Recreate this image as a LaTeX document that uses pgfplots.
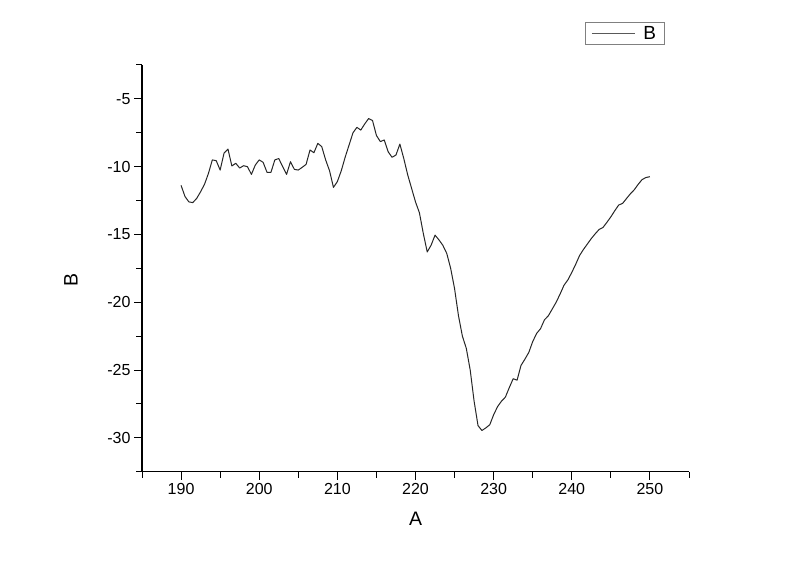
\documentclass[border=0pt]{standalone}
\usepackage{fontspec}
\setmainfont{Liberation Sans}
\usepackage{pgfplots}
\pgfplotsset{compat=1.18}

\pgfplotstableread{
x y
190 -11.38
190.5 -12.2
191 -12.6
191.5 -12.65
192 -12.34
192.5 -11.85
193 -11.3
193.5 -10.5
194 -9.5
194.5 -9.56
195 -10.25
195.5 -9.0
196 -8.7
196.5 -9.95
197 -9.75
197.5 -10.1
198 -9.93
198.5 -10.0
199 -10.57
199.5 -9.88
200 -9.5
200.5 -9.68
201 -10.42
201.5 -10.42
202 -9.5
202.5 -9.4
203 -10.0
203.5 -10.57
204 -9.63
204.5 -10.2
205 -10.25
205.5 -10.05
206 -9.83
206.5 -8.77
207 -8.97
207.5 -8.28
208 -8.52
208.5 -9.5
209 -10.3
209.5 -11.53
210 -11.1
210.5 -10.3
211 -9.3
211.5 -8.4
212 -7.5
212.5 -7.1
213 -7.3
213.5 -6.85
214 -6.45
214.5 -6.6
215 -7.7
215.5 -8.15
216 -8.03
216.5 -8.9
217 -9.31
217.5 -9.14
218 -8.33
218.5 -9.4
219 -10.6
219.5 -11.6
220 -12.6
220.5 -13.4
221 -14.93
221.5 -16.29
222 -15.79
222.5 -15.05
223 -15.4
223.5 -15.8
224 -16.4
224.5 -17.5
225 -19.0
225.5 -21.0
226 -22.5
226.5 -23.4
227 -25.0
227.5 -27.3
228 -29.1
228.5 -29.46
229 -29.27
229.5 -29.04
230 -28.3
230.5 -27.7
231 -27.3
231.5 -27.0
232 -26.3
232.5 -25.64
233 -25.75
233.5 -24.66
234 -24.2
234.5 -23.7
235 -22.9
235.5 -22.3
236 -21.95
236.5 -21.3
237 -21.0
237.5 -20.5
238 -20.0
238.5 -19.4
239 -18.75
239.5 -18.35
240 -17.8
240.5 -17.2
241 -16.55
241.5 -16.1
242 -15.7
242.5 -15.3
243 -14.95
243.5 -14.63
244 -14.48
244.5 -14.1
245 -13.7
245.5 -13.25
246 -12.83
246.5 -12.71
247 -12.35
247.5 -12.0
248 -11.7
248.5 -11.3
249 -10.95
249.5 -10.8
250 -10.74
}\spectrum

\begin{document}
\begin{tikzpicture}
  \begin{axis}[
      name=ax,
      scale only axis,
      width=547pt, height=406.7pt,
      xmin=185, xmax=255,
      ymin=-32.5, ymax=-2.5,
      axis lines*=left,
      axis line style={line width=1.2pt},
      xtick={190,200,...,250},
      minor xtick={185,195,...,255},
      ytick={-30,-25,...,-5},
      minor ytick={-32.5,-27.5,...,-2.5},
      tick align=outside,
      major tick length=8pt, minor tick length=6pt,
      every tick/.style={black, line width=1pt},
      /pgf/number format/assume math mode=true,
      tick label style={font=\fontsize{16}{19}\selectfont},
      label style={font=\fontsize{19.5}{22}\selectfont},
      xlabel={A}, ylabel={B},
      xlabel style={at={(axis description cs:0.5,-0.116)}, anchor=center},
      ylabel style={at={(axis description cs:-0.13,0.471)}, anchor=center, rotate=0},
      legend style={at={(rel axis cs:0.81,1.106)}, anchor=north west,
        draw=gray, line width=0.8pt, font=\fontsize{19}{22}\selectfont,
        inner xsep=6pt, inner ysep=2pt},
      legend image code/.code={\draw[line width=0.8pt, gray!70!black] (0pt,0pt) -- (43pt,0pt);
        \path (49pt,0pt);},
    ]
    \addplot[line width=1pt, color=black!85, line join=round] table {\spectrum};
    \addlegendentry{B}
  \end{axis}
  \path[use as bounding box] ([xshift=-142pt,yshift=-93.3pt]ax.south west)
    rectangle ([xshift=111pt,yshift=65pt]ax.north east);
\end{tikzpicture}
\end{document}
